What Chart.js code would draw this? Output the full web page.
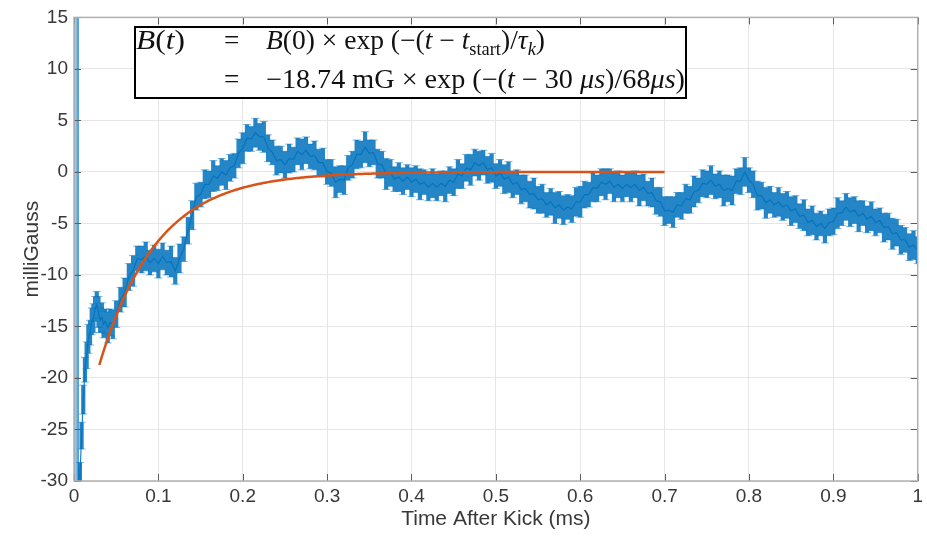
<!DOCTYPE html>
<html>
<head>
<meta charset="utf-8">
<script src="https://cdn.jsdelivr.net/npm/chart.js@4.4.1/dist/chart.umd.min.js"></script>
<style>
  html, body { margin: 0; padding: 0; background: #fff; }
  #wrap { position: relative; width: 927px; height: 537px; overflow: hidden; }
  #plot { position: absolute; left: 0; top: 0; }
  #eqbox { position: absolute; left: 134px; top: 26px; width: 549px; height: 69px;
           border: 2px solid #000; background: #fff; }
  .eq { position: absolute; white-space: nowrap; font-family: "Liberation Serif", "DejaVu Serif", serif;
        font-size: 27px; line-height: 27px; color: #111; transform-origin: 0 50%; }
  .eq i { font-style: italic; }
  .eq .sub { font-size: 18px; position: relative; top: 6px; }
</style>
</head>
<body>
<div id="wrap">
  <canvas id="plot" width="927" height="537"></canvas>
  <div id="eqbox"></div>
  <div class="eq" id="lhs1" style="left:136px; top:27px;"><i>B</i>(<i>t</i>)</div>
  <div class="eq" id="eqA" style="left:224px; top:27px;">=</div>
  <div class="eq" id="rhs1" style="left:266px; top:27px;"><i>B</i>(0) × exp (−(<i>t</i> − <i>t</i><span class="sub">start</span>)/<i>τ</i><span class="sub"><i>k</i></span>)</div>
  <div class="eq" id="eqB" style="left:224px; top:66px;">=</div>
  <div class="eq" id="rhs2" style="left:266px; top:66px;">−18.74 mG × exp (−(<i>t</i> − 30 <i>μs</i>)/68<i>μs</i>)</div>
</div>
<script>
// Axis ticks and labels
const xTicks = [0, 0.1, 0.2, 0.3, 0.4, 0.5, 0.6, 0.7, 0.8, 0.9, 1];
const xTickLabels = ['0', '0.1', '0.2', '0.3', '0.4', '0.5', '0.6', '0.7', '0.8', '0.9', '1'];
const yTicks = [-30, -25, -20, -15, -10, -5, 0, 5, 10, 15];
const yTickLabels = ['-30', '-25', '-20', '-15', '-10', '-5', '0', '5', '10', '15'];

// Measured field after the kick: time (µs), field (mG), error bar half-width (mG)
const timeUs = [
  0, 0.5, 1, 1.5, 2, 2.5, 3, 3.5, 4, 4.5, 5, 5.5,
  6, 7, 9, 11, 13, 15, 17, 19, 21, 23,
  25, 27, 29, 31, 33, 35, 37, 40, 43, 46,
  50, 55, 60, 65, 70, 75, 80, 85, 90, 95,
  100, 105, 110, 115, 120, 125, 130, 135, 140, 145,
  150, 155, 160, 165, 170, 175, 180, 185, 190, 195,
  200, 205, 210, 215, 220, 225, 230, 235, 240, 245,
  250, 255, 260, 265, 270, 275, 280, 285, 290, 295,
  300, 305, 310, 315, 320, 325, 330, 335, 340, 345,
  350, 355, 360, 365, 370, 375, 380, 385, 390, 395,
  400, 405, 410, 415, 420, 425, 430, 435, 440, 445,
  450, 455, 460, 465, 470, 475, 480, 485, 490, 495,
  500, 505, 510, 515, 520, 525, 530, 535, 540, 545,
  550, 555, 560, 565, 570, 575, 580, 585, 590, 595,
  600, 605, 610, 615, 620, 625, 630, 635, 640, 645,
  650, 655, 660, 665, 670, 675, 680, 685, 690, 695,
  700, 705, 710, 715, 720, 725, 730, 735, 740, 745,
  750, 755, 760, 765, 770, 775, 780, 785, 790, 795,
  800, 805, 810, 815, 820, 825, 830, 835, 840, 845,
  850, 855, 860, 865, 870, 875, 880, 885, 890, 895,
  900, 905, 910, 915, 920, 925, 930, 935, 940, 945,
  950, 955, 960, 965, 970, 975, 980, 985, 990, 995,
  1000
];
const fieldMilliGauss = [
  120, -150, 130, -140, 110, -120, 100, -110, 90, -100, 60, -80,
  -40, -29.6, -25.6, -22.1, -19.2, -17.8, -16.2, -15.6, -14.5, -14.2,
  -13.3, -12.9, -13.6, -14.4, -14.1, -14.8, -14.5, -15.1, -14.6, -14.8,
  -13.8, -12.4, -11.7, -10.2, -9.6, -8.4, -8.5, -8.2, -8.8, -8.4,
  -8.9, -8.2, -8.8, -8.7, -9.6, -8.4, -7.5, -5.7, -4.2, -2.4,
  -2.2, -1.2, -1.2, -0.4, -0.6, 0.0, -0.3, 0.4, 0.6, 1.8,
  2.3, 3.3, 3.2, 3.8, 3.4, 3.4, 2.3, 1.9, 1.1, 1.2,
  0.7, 1.3, 1.2, 2.0, 1.7, 2.1, 1.5, 1.6, 0.9, 0.9,
  0.0, -0.1, -1.0, -0.7, -0.8, 0.4, 0.7, 1.7, 1.7, 2.4,
  1.8, 1.9, 0.8, 0.7, -0.2, -0.1, -0.7, -0.5, -0.9, -0.5,
  -1.0, -0.7, -1.2, -1.0, -1.5, -1.1, -1.5, -1.1, -1.4, -0.8,
  -1.0, -0.2, -0.4, 0.4, 0.2, 0.9, 0.6, 0.9, 0.2, 0.4,
  -0.4, -0.1, -0.7, -0.5, -1.2, -1.0, -1.7, -1.6, -2.2, -2.1,
  -2.7, -2.6, -3.2, -2.9, -3.5, -3.2, -3.7, -3.4, -3.6, -2.9,
  -2.9, -2.2, -2.2, -1.5, -1.6, -1.0, -1.2, -0.9, -1.5, -1.2,
  -1.6, -1.2, -1.5, -1.2, -1.8, -1.5, -2.1, -2.0, -2.8, -2.9,
  -3.8, -3.7, -3.9, -3.2, -3.3, -2.6, -2.7, -1.9, -1.8, -1.1,
  -1.2, -0.8, -1.4, -1.2, -1.8, -1.6, -1.8, -0.9, -0.9, 0.0,
  -0.8, -1.2, -2.3, -2.3, -3.0, -2.7, -3.2, -2.9, -3.4, -3.2,
  -3.8, -3.6, -4.3, -4.2, -4.9, -4.7, -5.3, -5.0, -5.5, -4.9,
  -4.8, -4.0, -4.0, -3.4, -3.9, -3.7, -4.3, -4.0, -4.6, -4.3,
  -4.9, -4.7, -5.4, -5.3, -6.0, -5.9, -6.6, -6.6, -7.3, -7.1,
  -7.6
];
const errorMilliGauss = [
  1.3, 1.3, 1.3, 1.3, 1.3, 1.3, 1.3, 1.3, 1.3, 1.3, 1.3, 1.3,
  1.5, 1.4, 1.3, 1.4, 1.2, 1.3, 1.4, 1.2, 1.3, 1.4,
  1.2, 1.3, 1.5, 1.2, 1.4, 1.3, 1.2, 1.5, 1.3, 1.4,
  1.3, 1.2, 1.4, 1.3, 1.5, 1.2, 1.3, 1.4, 1.2, 1.3,
  1.4, 1.3, 1.2, 1.5, 1.3, 1.4, 1.2, 1.3, 1.4, 1.3,
  1.2, 1.4, 1.3, 1.5, 1.2, 1.3, 1.4, 1.3, 1.2, 1.4,
  1.5, 1.3, 1.2, 1.4, 1.3, 1.5, 1.3, 1.2, 1.4, 1.3,
  1.3, 1.4, 1.2, 1.3, 1.5, 1.3, 1.2, 1.4, 1.3, 1.4,
  1.2, 1.3, 1.5, 1.3, 1.4, 1.2, 1.3, 1.4, 1.3, 1.5,
  1.3, 1.2, 1.4, 1.3, 1.5, 1.3, 1.2, 1.4, 1.3, 1.2,
  1.4, 1.3, 1.5, 1.2, 1.3, 1.4, 1.3, 1.2, 1.5, 1.3,
  1.3, 1.4, 1.2, 1.3, 1.5, 1.3, 1.4, 1.2, 1.3, 1.4,
  1.2, 1.3, 1.4, 1.5, 1.3, 1.2, 1.4, 1.3, 1.3, 1.5,
  1.3, 1.4, 1.2, 1.3, 1.5, 1.3, 1.4, 1.2, 1.3, 1.4,
  1.5, 1.3, 1.2, 1.4, 1.3, 1.3, 1.5, 1.2, 1.4, 1.3,
  1.3, 1.2, 1.4, 1.3, 1.5, 1.3, 1.2, 1.4, 1.3, 1.4,
  1.4, 1.3, 1.5, 1.2, 1.3, 1.4, 1.3, 1.5, 1.2, 1.3,
  1.3, 1.4, 1.2, 1.3, 1.5, 1.3, 1.4, 1.2, 1.3, 1.4,
  1.2, 1.3, 1.4, 1.3, 1.5, 1.3, 1.2, 1.4, 1.3, 1.3,
  1.4, 1.3, 1.2, 1.5, 1.3, 1.4, 1.3, 1.2, 1.4, 1.3,
  1.3, 1.5, 1.2, 1.3, 1.4, 1.3, 1.5, 1.2, 1.3, 1.4,
  1.3, 1.2, 1.4, 1.3, 1.5, 1.3, 1.4, 1.2, 1.3, 1.4,
  1.3
];

// Exponential fit parameters, as given in the equation box
const fitB0MilliGauss = -18.74;
const fitStartUs = 30;
const fitTauUs = 68;
const fitEndUs = 700;
const fitSampleStepUs = 2;

const BLUE = '#0072BD';
const ORANGE = '#D95319';
const TRANSIENT_END_MS = 0.0055;

const measuredPoints = timeUs.map((t, i) => ({ x: t / 1000, y: fieldMilliGauss[i] }));
const fitPoints = [];
for (let t = fitStartUs; t <= fitEndUs; t += fitSampleStepUs) {
  fitPoints.push({ x: t / 1000, y: fitB0MilliGauss * Math.exp(-(t - fitStartUs) / fitTauUs) });
}

const MEASURED_INDEX = 1;

// Vertical error bars with caps for the measured series
const errorBars = {
  id: 'errorBars',
  afterDatasetDraw(chart, args) {
    if (args.index !== MEASURED_INDEX) return;
    const { ctx, chartArea: a, scales: { x, y } } = chart;
    const cap = 4;
    ctx.save();
    ctx.beginPath();
    ctx.rect(a.left, a.top, a.right - a.left, a.bottom - a.top);
    ctx.clip();
    const stems = new Path2D();
    const caps = new Path2D();
    for (let i = 0; i < timeUs.length; i++) {
      if (timeUs[i] / 1000 <= TRANSIENT_END_MS) continue;
      const px = x.getPixelForValue(timeUs[i] / 1000);
      const yt = y.getPixelForValue(fieldMilliGauss[i] + errorMilliGauss[i]);
      const yb = y.getPixelForValue(fieldMilliGauss[i] - errorMilliGauss[i]);
      stems.moveTo(px, yt); stems.lineTo(px, yb);
      caps.moveTo(px - cap, yt); caps.lineTo(px + cap, yt);
      caps.moveTo(px - cap, yb); caps.lineTo(px + cap, yb);
    }
    ctx.strokeStyle = 'rgba(0,114,189,0.5)';
    ctx.lineWidth = 1;
    ctx.stroke(caps);
    ctx.strokeStyle = 'rgba(0,114,189,0.86)';
    ctx.lineWidth = 4.2;
    ctx.stroke(stems);
    ctx.restore();
  }
};

// Box outline with inward tick marks on all four sides
const frame = {
  id: 'frame',
  afterDraw(chart) {
    const { ctx, chartArea: a, scales: { x, y } } = chart;
    ctx.save();
    ctx.strokeStyle = '#5c5c5c';
    ctx.lineWidth = 1;
    ctx.beginPath();
    const len = 7;
    for (const v of yTicks) {
      const py = Math.round(y.getPixelForValue(v)) + 0.5;
      ctx.moveTo(a.left, py); ctx.lineTo(a.left + len, py);
      ctx.moveTo(a.right, py); ctx.lineTo(a.right - len, py);
    }
    for (const v of xTicks) {
      const px = Math.round(x.getPixelForValue(v)) + 0.5;
      ctx.moveTo(px, a.bottom); ctx.lineTo(px, a.bottom - len);
      ctx.moveTo(px, a.top); ctx.lineTo(px, a.top + len);
    }
    ctx.stroke();
    ctx.strokeStyle = '#b0b0b0';
    ctx.lineWidth = 1.5;
    ctx.strokeRect(a.left, a.top, a.right - a.left, a.bottom - a.top);
    ctx.restore();
  }
};

const axisFont = { family: '"Liberation Sans", Arial, sans-serif', size: 19 };
const titleFont = { family: '"Liberation Sans", Arial, sans-serif', size: 21 };
const gridColor = '#e6e6e6';
const textColor = '#383838';

new Chart(document.getElementById('plot'), {
  type: 'line',
  data: {
    datasets: [
      {
        label: 'Exponential fit',
        data: fitPoints,
        borderColor: ORANGE,
        borderWidth: 2.5,
        pointRadius: 0,
        tension: 0
      },
      {
        label: 'Measured field',
        data: measuredPoints,
        borderColor: 'rgba(0,114,189,0.9)',
        borderWidth: 1.2,
        pointRadius: 0,
        tension: 0,
        segment: {
          borderColor: c => (c.p1.parsed.x <= TRANSIENT_END_MS ? 'rgba(0,114,189,0.24)' : undefined),
          borderWidth: c => (c.p1.parsed.x <= TRANSIENT_END_MS ? 1 : undefined)
        }
      }
    ]
  },
  options: {
    responsive: false,
    animation: false,
    events: [],
    layout: { padding: { top: 14, right: 3, left: 0, bottom: 0 } },
    plugins: { legend: { display: false }, tooltip: { enabled: false } },
    scales: {
      x: {
        type: 'linear',
        min: 0,
        max: 1,
        afterBuildTicks: s => { s.ticks = xTicks.map(v => ({ value: v })); },
        afterFit: s => { s.height = 56; },
        ticks: {
          autoSkip: false,
          maxRotation: 0,
          padding: 4,
          color: textColor,
          font: axisFont,
          callback: (v, i) => xTickLabels[i]
        },
        grid: { color: gridColor, drawTicks: false },
        border: { display: false },
        title: {
          display: true,
          text: 'Time After Kick (ms)',
          color: textColor,
          font: titleFont,
          padding: { top: 0, bottom: 5 }
        }
      },
      y: {
        type: 'linear',
        min: -30,
        max: 15,
        afterBuildTicks: s => { s.ticks = yTicks.map(v => ({ value: v })); },
        afterFit: s => { s.width = 74; },
        ticks: {
          autoSkip: false,
          padding: 6,
          color: textColor,
          font: axisFont,
          callback: (v, i) => yTickLabels[i]
        },
        grid: { color: gridColor, drawTicks: false },
        border: { display: false },
        title: {
          display: true,
          text: 'milliGauss',
          color: textColor,
          font: titleFont,
          padding: { top: 20, bottom: 0 }
        }
      }
    }
  },
  plugins: [errorBars, frame]
});

// Stretch each line of the equation to its column width
function fitWidth(id, target) {
  const el = document.getElementById(id);
  el.style.transform = 'none';
  const w = el.getBoundingClientRect().width;
  if (w > 0) el.style.transform = 'scaleX(' + (target / w) + ')';
}
function layoutEquation() {
  fitWidth('lhs1', 49);
  fitWidth('rhs1', 279);
  fitWidth('rhs2', 419);
}
layoutEquation();
if (document.fonts && document.fonts.ready) document.fonts.ready.then(layoutEquation);
</script>
</body>
</html>
